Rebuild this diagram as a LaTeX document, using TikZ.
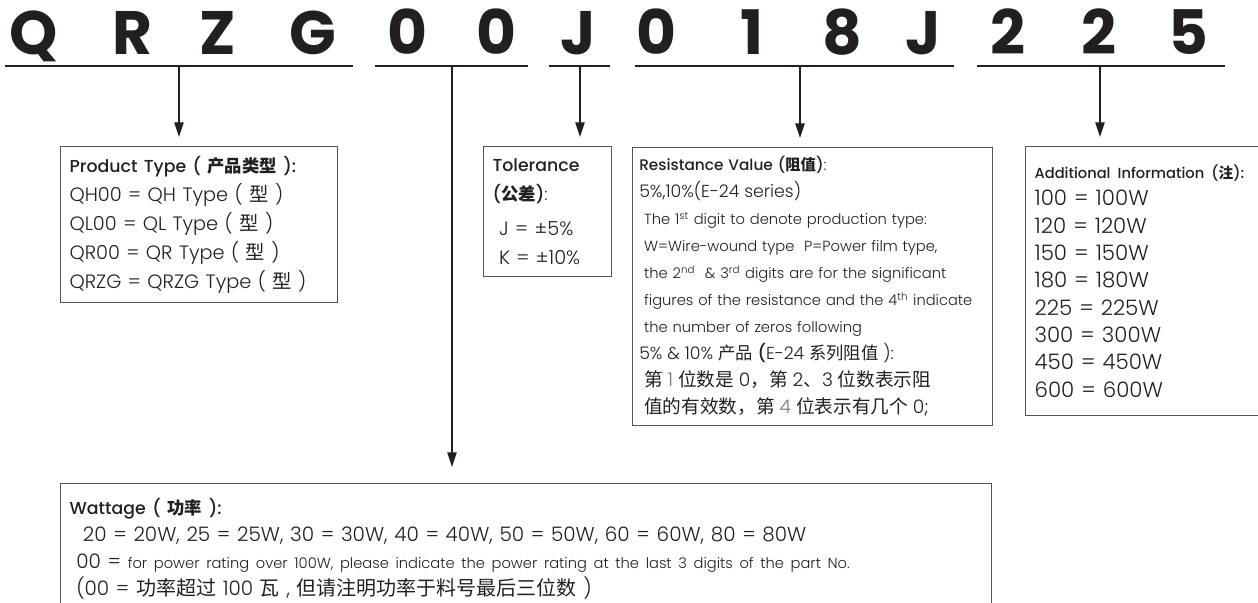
\documentclass[tikz,border=0pt]{standalone}
\usepackage{fontspec}
\usepackage{xcolor}
\usepackage{tikz}
\usetikzlibrary{arrows.meta,positioning}
\setmainfont{Poppins}[UprightFont=* Light, BoldFont=* Medium]
\newfontfamily\cjk{Noto Sans CJK SC}
\newfontfamily\codefont{Poppins}[UprightFont=* Bold]
\definecolor{ink}{HTML}{231F20}
\definecolor{edge}{HTML}{555555}

\begin{document}
\begin{tikzpicture}[x=0.75pt, y=-0.75pt,
  code/.style={font=\codefont\fontsize{46}{46}\selectfont, text=ink, anchor=base, inner sep=0pt},
  uline/.style={draw=ink, line width=1.3pt},
  arr/.style={-{Triangle[length=11pt, width=7pt]}, draw=ink, line width=0.9pt, shorten >=6.75pt},
  box/.style={draw=edge, line width=0.9pt, anchor=north west, align=left, text=ink, inner xsep=6.75pt, inner ysep=0pt}
]
\useasboundingbox (0,0) rectangle (1258,603);
% part number
\foreach \x/\c [count=\i] in {34/Q,132/R,218/Z,313/G,407/0,496/0,578/J,656/0,752/1,842/8,923/J,1008/2,1099/2,1188/5}
  \node[code] (c\i) at (\x,55) {\c};
% underlines
\draw[uline] (5,66) -- (353,66);
\draw[uline] (375,66) -- (528,66);
\draw[uline] (549,66) -- (610,66);
\draw[uline] (635,66) -- (954,66);
\draw[uline] (977,66) -- (1225,66);
\coordinate (g1) at (179,66);
\coordinate (g2) at (452,66);
\coordinate (g3) at (580,66);
\coordinate (g4) at (800,66);
\coordinate (g5) at (1100,66);
% boxes
\node[box, text width=194.25pt, minimum height=117pt, font=\fontsize{14.5}{21.75}\selectfont] (ptype) at (60,146) {%
{\fontsize{13}{21.75}\selectfont\textbf{Product Type ( {\cjk 产品类型} ):}}\\
QH00 = QH Type ( {\cjk 型} )\\
QL00 = QL Type ( {\cjk 型} )\\
QR00 = QR Type ( {\cjk 型} )\\
QRZG = QRZG Type ( {\cjk 型} )};
\node[box, text width=82.5pt, minimum height=97.5pt, font=\fontsize{14.5}{21.75}\selectfont] (toler) at (483,146) {%
{\fontsize{13}{21.75}\selectfont\textbf{Tolerance}}\\
{\fontsize{13}{21.75}\selectfont\textbf{({\cjk 公差})}:}\\[5pt]
\ J = ±5\%\\
\ K = ±10\%};
\node[box, inner xsep=5pt, text width=260pt, minimum height=208.5pt, font=\fontsize{11}{20.25}\selectfont] (resist) at (632,147) {%
{\fontsize{11.5}{20.25}\selectfont\textbf{Resistance Value ({\cjk 阻值})}:}\\
{\fontsize{13}{20.25}\selectfont 5\%,10\%(E-24 series)}\\
\ The 1\textsuperscript{st} digit to denote production type:\\
\ W=Wire-wound type\ \ P=Power film type,\\
\ the 2\textsuperscript{nd}\ \ \& 3\textsuperscript{rd} digits are for the significant\\
\ figures of the resistance and the 4\textsuperscript{th} indicate\\
\ the number of zeros following\\
{\fontsize{13}{20.25}\selectfont 5\% \& 10\% {\cjk 产品} \textbf{(}E-24 {\cjk 系列阻值} ):}\\
{\fontsize{14}{20.25}\selectfont\ {\cjk 第} {\color{ink!60}1} {\cjk 位数是} 0{\cjk ，第} 2{\cjk 、}3 {\cjk 位数表示阻}}\\
{\fontsize{14}{20.25}\selectfont\ {\cjk 值的有效数，第} {\color{ink!60}4} {\cjk 位表示有几个} 0;}};
\node[box, text width=220pt, minimum height=201.75pt, font=\fontsize{16}{20.5}\selectfont] (addinfo) at (1025,146) {%
{\fontsize{11}{20.5}\selectfont\textbf{Additional Information ({\cjk 注}):}}\\
100 = 100W\\
120 = 120W\\
150 = 150W\\
180 = 180W\\
225 = 225W\\
300 = 300W\\
450 = 450W\\
600 = 600W};
\node[box, text width=684.75pt, minimum height=97.5pt, font=\fontsize{15}{20.25}\selectfont] (watt) at (60,483) {%
{\fontsize{13}{20.25}\selectfont\textbf{Wattage ( {\cjk 功率} ):}}\\
\ \ 20 = 20W, 25 = 25W, 30 = 30W, 40 = 40W, 50 = 50W, 60 = 60W, 80 = 80W\\
\ 00 = {\fontsize{11}{20.25}\selectfont for power rating over 100W, please indicate the power rating at the last 3 digits of the part No.}\\
\ (00 = {\cjk 功率超过} 100 {\cjk 瓦} , {\cjk 但请注明功率于料号最后三位数} )};
% arrows
\draw[arr] (g1) -- (g1 |- ptype.north);
\draw[arr, shorten >=12pt] (g2) -- (g2 |- watt.north);
\draw[arr] (g3) -- (g3 |- toler.north);
\draw[arr] (g4) -- (g4 |- resist.north);
\draw[arr] (g5) -- (g5 |- addinfo.north);
\end{tikzpicture}
\end{document}
